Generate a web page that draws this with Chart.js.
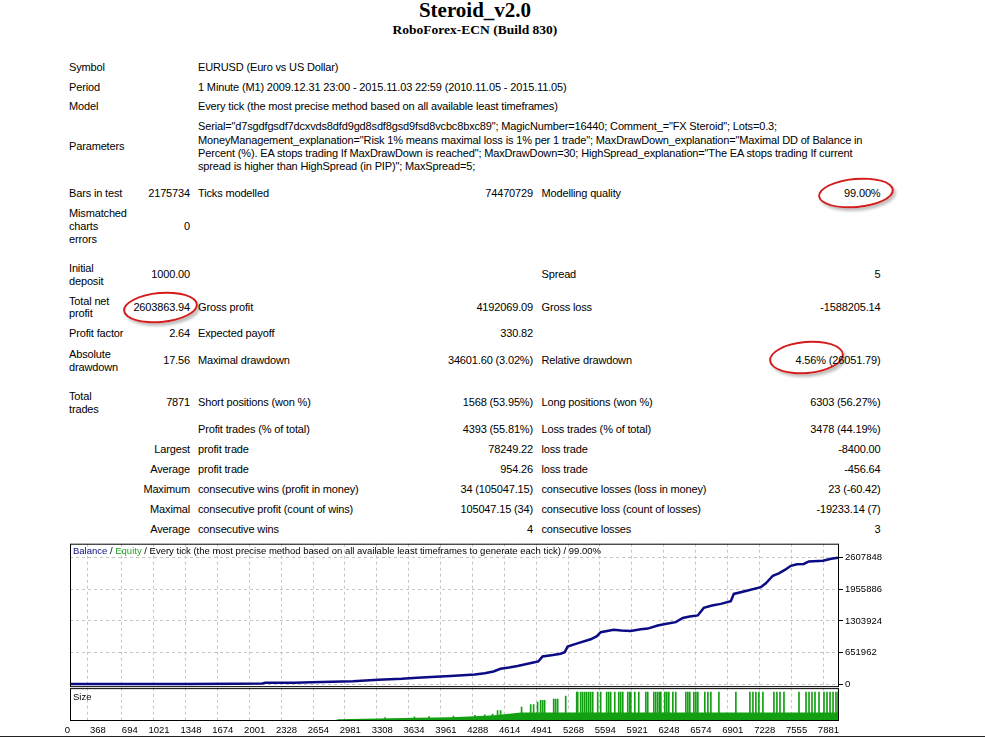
<!DOCTYPE html>
<html>
<head>
<meta charset="utf-8">
<title>Steroid_v2.0</title>
<script src="https://cdn.jsdelivr.net/npm/chart.js@4.4.0/dist/chart.umd.min.js"></script>
<style>
  body { margin: 0; background: #fff; }
  #page { position: relative; width: 985px; height: 738px; overflow: hidden;
          font-family: 'Liberation Sans', Arial, sans-serif; font-size: 11px; color: #000; }
  .t { position: absolute; white-space: nowrap; line-height: 13px; letter-spacing: -0.15px; }
  .head { position: absolute; left: 0; width: 950px; text-align: center;
          font-family: 'Liberation Serif', 'Times New Roman', serif; font-weight: bold; }
  .ring { position: absolute; border: 2px solid #d41c1c; border-radius: 50%;
          box-shadow: 2px 3px 3px rgba(0,0,0,0.25); transform: rotate(-5deg); }
  #chart { position: absolute; left: 0; top: 536px; }
  #edge { position: absolute; left: 0; top: 736px; width: 985px; height: 1px; background: #222; }
</style>
</head>
<body>
<div id="page">
  <div class="head" style="top:-1px; font-size:21px; line-height:22px;">Steroid_v2.0</div>
  <div class="head" style="top:22px; font-size:13.5px; line-height:15px;">RoboForex-ECN (Build 830)</div>
  <canvas id="chart" width="985" height="202"></canvas>
  <div class="ring" style="left:818px; top:178px; width:72px; height:26px;"></div>
  <div class="ring" style="left:123px; top:292px; width:71px; height:27px;"></div>
  <div class="ring" style="left:769px; top:341px; width:71px; height:29px;"></div>
  <div id="edge"></div>
</div>
<script>
// x axis: trade number, y axis: balance
const xTickValues = [0, 368, 694, 1021, 1348, 1674, 2001, 2328, 2654, 2981, 3308, 3634, 3961,
  4288, 4614, 4941, 5268, 5594, 5921, 6248, 6574, 6901, 7228, 7555, 7881]
const yTickValues = [0, 651962, 1303924, 1955886, 2607848]

const balanceTrades = [0, 600, 1200, 1700, 1970, 2001, 2300, 2480, 2790, 2900, 3160, 3400, 3560,
  3700, 3900, 4150, 4250, 4340, 4412, 4500, 4586, 4680, 4771, 4800, 4843, 4950, 5028, 5070,
  5100, 5200, 5336, 5400, 5439, 5572, 5650, 5746, 5850, 5921, 6023, 6100, 6208, 6280, 6350,
  6434, 6495, 6580, 6670, 6772, 6803, 6946, 7080, 7131, 7203, 7264, 7330, 7387, 7450, 7520,
  7572, 7716, 7800, 7871]
const balanceValues = [1000, 2500, 5500, 9000, 14000, 27000, 31000, 38000, 55000, 62000, 92000,
  110000, 133000, 145000, 168000, 198000, 225000, 262000, 318000, 345000, 376000, 415000,
  455000, 470000, 570000, 600000, 628000, 660000, 775000, 840000, 925000, 990000, 1070000,
  1120000, 1105000, 1095000, 1130000, 1145000, 1210000, 1240000, 1278000, 1365000, 1395000,
  1417000, 1572000, 1620000, 1655000, 1710000, 1860000, 1930000, 1998000, 2080000, 2235000,
  2285000, 2360000, 2440000, 2470000, 2478000, 2530000, 2546000, 2585000, 2604864]

// lot size panel: the dense base band and the single tall bars
const bandTrades = [0, 2700, 2750, 3150, 3550, 3900, 4150, 4350, 4500, 4620, 7871]
const bandLots = [0.5, 1.5, 6, 9, 11, 13, 16, 20, 25, 29, 29]
const spikeTrades = [3230, 3530, 3680, 3930, 4150, 4250, 4330, 4382, 4413, 4628, 4721, 4751,
  4792, 4823, 4844, 4864, 4957, 4977, 4998, 5080, 5193, 5203, 5234, 5254, 5275, 5295, 5316,
  5336, 5357, 5408, 5439, 5500, 5521, 5541, 5583, 5624, 5644, 5665, 5716, 5737, 5747, 5788,
  5829, 5901, 5921, 5983, 6003, 6024, 6044, 6055, 6096, 6116, 6137, 6178, 6208, 6311, 6332,
  6352, 6393, 6414, 6434, 6506, 6537, 6568, 6650, 6824, 6968, 6999, 7029, 7060, 7101, 7214,
  7245, 7276, 7317, 7471, 7543, 7574, 7604, 7635, 7676, 7727, 7758, 7789, 7820, 7850, 7871]
const spikeLots = [12, 14, 15, 17, 20, 21, 24, 36, 36, 48, 57, 57, 65, 71, 71, 71, 76, 76, 76,
  86, 100, 100, 100, 100, 100, 100, 100, 100, 100, 100, 100, 100, 100, 100, 100, 100, 100,
  100, 100, 100, 100, 100, 100, 100, 100, 100, 100, 100, 100, 100, 100, 100, 100, 100, 100,
  100, 100, 100, 100, 100, 100, 100, 100, 100, 100, 100, 100, 100, 100, 100, 100, 100, 100,
  100, 100, 100, 100, 100, 100, 100, 100, 100, 100, 100, 100, 100, 100]

const legendParts = [
  ['Balance', '#0b0b84'],
  [' / ', '#000'],
  ['Equity', '#22a622'],
  [' / Every tick (the most precise method based on all available least timeframes to generate each tick) / 99.00%', '#000']
]

// report text
const page = document.getElementById('page')
function put(text, x, cy, align) {
  const d = document.createElement('div')
  d.className = 't'
  d.textContent = text
  d.style.top = (cy - 6.5) + 'px'
  if (align === 'r') d.style.right = (985 - x) + 'px'
  else d.style.left = x + 'px'
  page.appendChild(d)
}
const L = 69, V1 = 190, T2 = 198, V2 = 533, T3 = 541.5, V3 = 880.5

put('Symbol', L, 67); put('EURUSD (Euro vs US Dollar)', T2, 67)
put('Period', L, 87); put('1 Minute (M1) 2009.12.31 23:00 - 2015.11.03 22:59 (2010.11.05 - 2015.11.05)', T2, 87)
put('Model', L, 106.5); put('Every tick (the most precise method based on all available least timeframes)', T2, 106.5)
put('Parameters', L, 146.5)
put('Serial="d7sgdfgsdf7dcxvds8dfd9gd8sdf8gsd9fsd8vcbc8bxc89"; MagicNumber=16440; Comment_="FX Steroid"; Lots=0.3;', T2, 126.7)
put('MoneyManagement_explanation="Risk 1% means maximal loss is 1% per 1 trade"; MaxDrawDown_explanation="Maximal DD of Balance in', T2, 140)
put('Percent (%). EA stops trading If MaxDrawDown is reached"; MaxDrawDown=30; HighSpread_explanation="The EA stops trading If current', T2, 153.3)
put('spread is higher than HighSpread (in PIP)"; MaxSpread=5;', T2, 166.7)

put('Bars in test', L, 193); put('2175734', V1, 193, 'r'); put('Ticks modelled', T2, 193)
put('74470729', V2, 193, 'r'); put('Modelling quality', T3, 193); put('99.00%', V3, 193, 'r')
put('Mismatched', L, 213); put('charts', L, 226); put('errors', L, 239); put('0', V1, 226, 'r')

put('Initial', L, 268); put('deposit', L, 281); put('1000.00', V1, 274, 'r')
put('Spread', T3, 274); put('5', V3, 274, 'r')
put('Total net', L, 301); put('profit', L, 313.5); put('2603863.94', V1, 307, 'r')
put('Gross profit', T2, 307); put('4192069.09', V2, 307, 'r'); put('Gross loss', T3, 307); put('-1588205.14', V3, 307, 'r')
put('Profit factor', L, 333.5); put('2.64', V1, 333.5, 'r'); put('Expected payoff', T2, 333.5); put('330.82', V2, 333.5, 'r')
put('Absolute', L, 354); put('drawdown', L, 367); put('17.56', V1, 360, 'r')
put('Maximal drawdown', T2, 360); put('34601.60 (3.02%)', V2, 360, 'r')
put('Relative drawdown', T3, 360); put('4.56% (26051.79)', V3, 360, 'r')

put('Total', L, 396); put('trades', L, 409); put('7871', V1, 402, 'r')
put('Short positions (won %)', T2, 402); put('1568 (53.95%)', V2, 402, 'r')
put('Long positions (won %)', T3, 402); put('6303 (56.27%)', V3, 402, 'r')
put('Profit trades (% of total)', T2, 429.5); put('4393 (55.81%)', V2, 429.5, 'r')
put('Loss trades (% of total)', T3, 429.5); put('3478 (44.19%)', V3, 429.5, 'r')
put('Largest', V1, 449.5, 'r'); put('profit trade', T2, 449.5); put('78249.22', V2, 449.5, 'r')
put('loss trade', T3, 449.5); put('-8400.00', V3, 449.5, 'r')
put('Average', V1, 469.5, 'r'); put('profit trade', T2, 469.5); put('954.26', V2, 469.5, 'r')
put('loss trade', T3, 469.5); put('-456.64', V3, 469.5, 'r')
put('Maximum', V1, 489.5, 'r'); put('consecutive wins (profit in money)', T2, 489.5); put('34 (105047.15)', V2, 489.5, 'r')
put('consecutive losses (loss in money)', T3, 489.5); put('23 (-60.42)', V3, 489.5, 'r')
put('Maximal', V1, 509.5, 'r'); put('consecutive profit (count of wins)', T2, 509.5); put('105047.15 (34)', V2, 509.5, 'r')
put('consecutive loss (count of losses)', T3, 509.5); put('-19233.14 (7)', V3, 509.5, 'r')
put('Average', V1, 529.5, 'r'); put('consecutive wins', T2, 529.5); put('4', V2, 529.5, 'r')
put('consecutive losses', T3, 529.5); put('3', V3, 529.5, 'r')

// chart
Chart.defaults.font.family = "'Liberation Sans', Arial, sans-serif"
Chart.defaults.font.size = 9.5
Chart.defaults.color = '#000'

const gridGrey = '#c6c6c6'

const panels = {
  id: 'panels',
  afterDraw(chart) {
    const c = chart.ctx
    const a = chart.chartArea
    const y = chart.scales.y
    const s = chart.scales.ySize
    c.save()
    c.strokeStyle = '#000'
    c.lineWidth = 1
    c.strokeRect(a.left + 0.5, y.top + 0.5, a.right - a.left - 1, y.bottom - y.top - 1)
    c.strokeRect(a.left + 0.5, s.top + 1.5, a.right - a.left - 1, s.bottom - s.top - 2)
    c.font = "9.5px 'Liberation Sans', Arial, sans-serif"
    c.textBaseline = 'middle'
    let x = a.left + 3
    for (const [txt, col] of legendParts) {
      c.fillStyle = col
      c.fillText(txt, x, y.top + 8)
      x += c.measureText(txt).width
    }
    c.fillStyle = '#000'
    c.fillText('Size', a.left + 3, s.top + 10)
    c.restore()
  }
}

new Chart(document.getElementById('chart'), {
  type: 'line',
  data: {
    datasets: [
      {
        label: 'Balance',
        data: balanceTrades.map((t, i) => ({ x: t, y: balanceValues[i] })),
        yAxisID: 'y',
        borderColor: '#0b0b84',
        borderWidth: 2.5,
        pointRadius: 0,
        tension: 0
      },
      {
        label: 'Size',
        data: bandTrades.map((t, i) => ({ x: t, y: bandLots[i] })),
        yAxisID: 'ySize',
        borderWidth: 0,
        backgroundColor: '#12a012',
        fill: 'origin',
        pointRadius: 0
      },
      {
        type: 'bar',
        label: 'Size peaks',
        data: spikeTrades.map((t, i) => ({ x: t, y: spikeLots[i] })),
        yAxisID: 'ySize',
        backgroundColor: '#12a012',
        barThickness: 1,
        grouped: false
      }
    ]
  },
  options: {
    responsive: false,
    animation: false,
    events: [],
    layout: { padding: { left: 70, right: 94, top: 7, bottom: 0 } },
    plugins: { legend: { display: false }, tooltip: { enabled: false } },
    scales: {
      x: {
        type: 'linear',
        min: 0,
        max: 7881,
        offset: false,
        afterBuildTicks: s => { s.ticks = xTickValues.map(v => ({ value: v })) },
        afterFit: s => { s.height = 17 },
        ticks: { callback: v => String(v), align: 'end', padding: 4, autoSkip: false, maxRotation: 0 },
        grid: { color: gridGrey, drawTicks: false },
        border: { display: false, dash: [3, 3] }
      },
      y: {
        type: 'linear',
        position: 'right',
        stack: 'panel',
        stackWeight: 144,
        min: -61600,
        max: 2895324,
        afterBuildTicks: s => { s.ticks = yTickValues.map(v => ({ value: v })) },
        afterFit: s => { s.width = 52 },
        ticks: { callback: v => String(v), padding: 2 },
        grid: { color: gridGrey, tickLength: 4, tickColor: '#000', tickBorderDash: [] },
        border: { display: false, dash: [3, 3] }
      },
      ySize: {
        type: 'linear',
        position: 'right',
        stack: 'panel',
        stackWeight: 34,
        min: 0,
        max: 117,
        afterFit: s => { s.width = 52 },
        ticks: { display: false },
        grid: { display: false },
        border: { display: false }
      }
    }
  },
  plugins: [panels]
})
</script>
</body>
</html>
